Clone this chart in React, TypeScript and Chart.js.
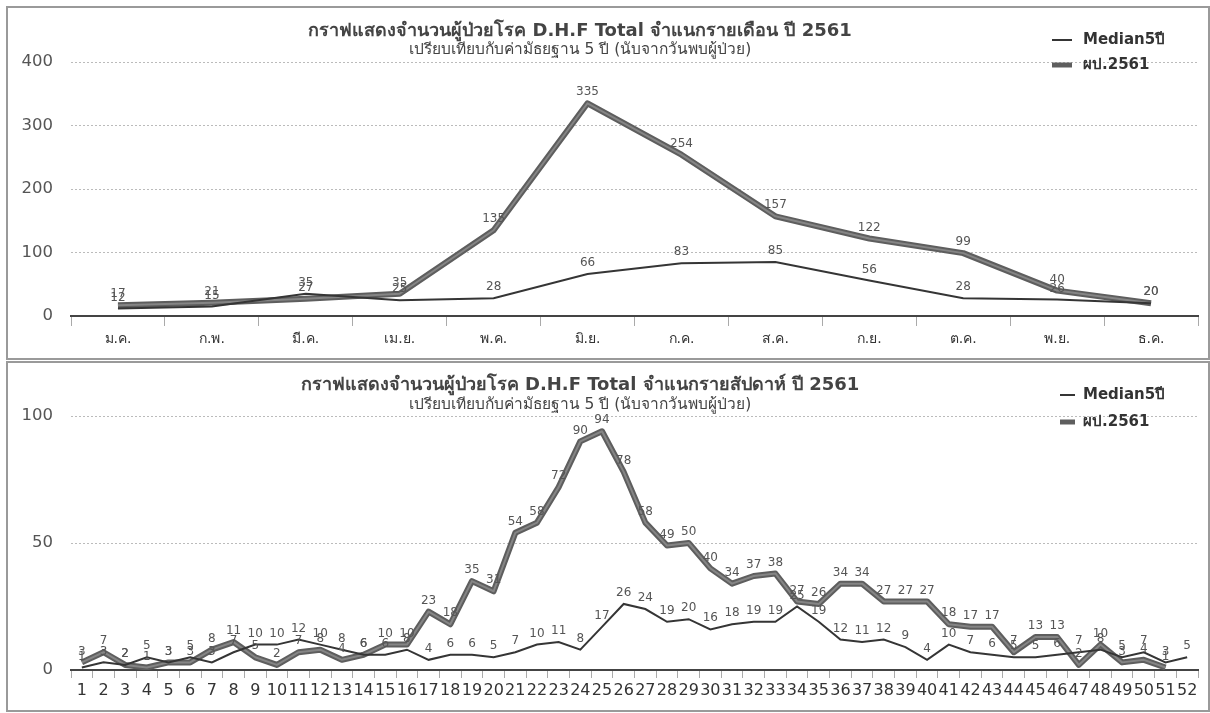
import React, { useEffect, useRef } from "react";
import { Chart, registerables } from "chart.js";
Chart.register(...registerables);

const monthLabels = ["ม.ค.", "ก.พ.", "มี.ค.", "เม.ย.", "พ.ค.", "มิ.ย.", "ก.ค.", "ส.ค.", "ก.ย.", "ต.ค.", "พ.ย.", "ธ.ค."];
const monthMedian = [12, 15, 35, 25, 28, 66, 83, 85, 56, 28, 26, 20];
const monthCases = [17, 21, 27, 35, 135, 335, 254, 157, 122, 99, 40, 20];

const weekLabels = ["1", "2", "3", "4", "5", "6", "7", "8", "9", "10", "11", "12", "13", "14", "15", "16", "17", "18", "19", "20", "21", "22", "23", "24", "25", "26", "27", "28", "29", "30", "31", "32", "33", "34", "35", "36", "37", "38", "39", "40", "41", "42", "43", "44", "45", "46", "47", "48", "49", "50", "51", "52"];
const weekMedian = [1, 3, 2, 5, 3, 5, 3, 7, 10, 10, 12, 10, 8, 6, 6, 8, 4, 6, 6, 5, 7, 10, 11, 8, 17, 26, 24, 19, 20, 16, 18, 19, 19, 25, 19, 12, 11, 12, 9, 4, 10, 7, 6, 5, 5, 6, 7, 8, 5, 7, 3, 5];
const weekCases = [3, 7, 2, 1, 3, 3, 8, 11, 5, 2, 7, 8, 4, 6, 10, 10, 23, 18, 35, 31, 54, 58, 72, 90, 94, 78, 58, 49, 50, 40, 34, 37, 38, 27, 26, 34, 34, 27, 27, 27, 18, 17, 17, 7, 13, 13, 2, 10, 3, 4, 1, null];

const seriesNames = ["Median5ปี", "ผป.2561"];

const FONT = "'DejaVu Sans', 'Noto Sans', sans-serif";

const valueLabels = {
  id: "valueLabels",
  afterDatasetsDraw(chart: any, _a: any, opts: any) {
    const ctx = chart.ctx;
    ctx.save();
    ctx.font = `${opts.size}px ${FONT}`;
    ctx.fillStyle = opts.color;
    ctx.textAlign = "center";
    ctx.textBaseline = "bottom";
    chart.data.datasets.forEach((ds: any, i: number) => {
      const meta = chart.getDatasetMeta(i);
      meta.data.forEach((pt: any, j: number) => {
        const v = ds.data[j];
        if (v == null) return;
        ctx.fillText(String(v), pt.x, pt.y - opts.offset);
      });
    });
    ctx.restore();
  },
};

const innerStroke = {
  id: "innerStroke",
  afterDatasetDraw(chart: any, args: any) {
    if (args.index !== 1) return;
    const meta = chart.getDatasetMeta(1);
    const ctx = chart.ctx;
    ctx.save();
    ctx.strokeStyle = "#858585";
    ctx.lineWidth = 2;
    ctx.lineJoin = "round";
    ctx.beginPath();
    let started = false;
    meta.data.forEach((pt: any, j: number) => {
      if (chart.data.datasets[1].data[j] == null) return;
      if (!started) { ctx.moveTo(pt.x, pt.y); started = true; } else ctx.lineTo(pt.x, pt.y);
    });
    ctx.stroke();
    ctx.restore();
  },
};

const titleLegend = {
  id: "titleLegend",
  afterDraw(chart: any, _a: any, opts: any) {
    const ctx = chart.ctx;
    ctx.save();
    ctx.textAlign = "center";
    ctx.textBaseline = "middle";
    ctx.fillStyle = "#444";
    ctx.font = `bold 18px ${FONT}`;
    ctx.fillText(opts.title, opts.titleX, opts.titleY);
    ctx.font = `15.5px ${FONT}`;
    ctx.fillText(opts.subtitle, opts.titleX, opts.subY);
    ctx.textAlign = "left";
    ctx.font = `bold 15px ${FONT}`;
    chart.data.datasets.forEach((ds: any, i: number) => {
      const y = opts.legendY[i];
      ctx.strokeStyle = ds.borderColor;
      ctx.lineWidth = i === 0 ? 2 : 5;
      ctx.beginPath();
      ctx.moveTo(opts.legendX, y);
      ctx.lineTo(opts.legendX + opts.sampleW, y);
      ctx.stroke();
      ctx.fillStyle = "#333";
      ctx.fillText(ds.label, opts.textX, y);
    });
    ctx.restore();
  },
};

function makeConfig(labels: string[], median: number[], cases: (number | null)[], o: any) {
  return {
    type: "line",
    data: {
      labels,
      datasets: [
        { label: seriesNames[0], data: median, borderColor: "#353535", borderWidth: 2, pointRadius: 0, tension: 0 },
        { label: seriesNames[1], data: cases, borderColor: "#5e5e5e", borderWidth: 6, pointRadius: 0, tension: 0, borderJoinStyle: "round" },
      ],
    },
    options: {
      animation: false,
      responsive: false,
      layout: { padding: { top: o.padTop, right: 12, left: 0, bottom: 0 } },
      plugins: {
        legend: { display: false },
        title: { display: false },
        tooltip: { enabled: false },
        valueLabels: { size: o.labelSize, color: "#555", offset: 5 },
        titleLegend: o.tl,
      },
      scales: {
        x: {
          offset: true,
          grid: { drawOnChartArea: false, offset: true, tickLength: o.tickLen, color: "#aaa" },
          border: { color: "#444", width: 2 },
          ticks: { autoSkip: false, maxRotation: 0, padding: o.xPad, color: "#333", font: { family: FONT, size: o.xFont } },
          afterFit: (s: any) => { s.height = o.xHeight; },
        },
        y: {
          min: 0,
          max: o.max,
          ticks: { stepSize: o.step, padding: 18, color: "#555", font: { family: FONT, size: 16.5 } },
          grid: { color: "#bbb", drawTicks: false, lineWidth: 1 },
          border: { display: false, dash: [2, 2] },
          afterFit: (s: any) => { s.width = 71; },
        },
      },
    },
    plugins: [valueLabels, innerStroke, titleLegend],
  };
}

export default function App() {
  const topRef = useRef<HTMLCanvasElement>(null);
  const botRef = useRef<HTMLCanvasElement>(null);
  useEffect(() => {
    document.body.style.margin = "0";
    const c1 = new Chart(topRef.current as any, makeConfig(monthLabels, monthMedian, monthCases, {
      padTop: 62, max: 400, step: 100, labelSize: 12, tickLen: 10, xPad: 5, xFont: 14, xHeight: 42,
      tl: {
        title: "กราฟแสดงจำนวนผู้ป่วยโรค D.H.F Total จำแนกรายเดือน ปี 2561",
        subtitle: "เปรียบเทียบกับค่ามัธยฐาน 5 ปี (นับจากวันพบผู้ป่วย)",
        titleX: 580, titleY: 31, subY: 50, legendX: 1052, sampleW: 20, textX: 1083, legendY: [40, 65],
      },
    }) as any);
    const c2 = new Chart(botRef.current as any, makeConfig(weekLabels, weekMedian, weekCases, {
      padTop: 56, max: 100, step: 50, labelSize: 12, tickLen: 8, xPad: 3, xFont: 16, xHeight: 43,
      tl: {
        title: "กราฟแสดงจำนวนผู้ป่วยโรค D.H.F Total จำแนกรายสัปดาห์ ปี 2561",
        subtitle: "เปรียบเทียบกับค่ามัธยฐาน 5 ปี (นับจากวันพบผู้ป่วย)",
        titleX: 580, titleY: 25, subY: 45, legendX: 1060, sampleW: 15, textX: 1083, legendY: [35, 62],
      },
    }) as any);
    return () => { c1.destroy(); c2.destroy(); };
  }, []);
  return (
    <div style={{ position: "relative", width: 1210, height: 713, background: "#fff", overflow: "hidden" }}>
      <div style={{ position: "absolute", left: 6, top: 6, width: 1200, height: 350, border: "2px solid #9a9a9a" }} />
      <div style={{ position: "absolute", left: 6, top: 361, width: 1200, height: 347, border: "2px solid #9a9a9a" }} />
      <canvas ref={topRef} width={1210} height={358} style={{ position: "absolute", left: 0, top: 0, width: 1210, height: 358 }} />
      <canvas ref={botRef} width={1210} height={353} style={{ position: "absolute", left: 0, top: 360, width: 1210, height: 353 }} />
    </div>
  );
}
